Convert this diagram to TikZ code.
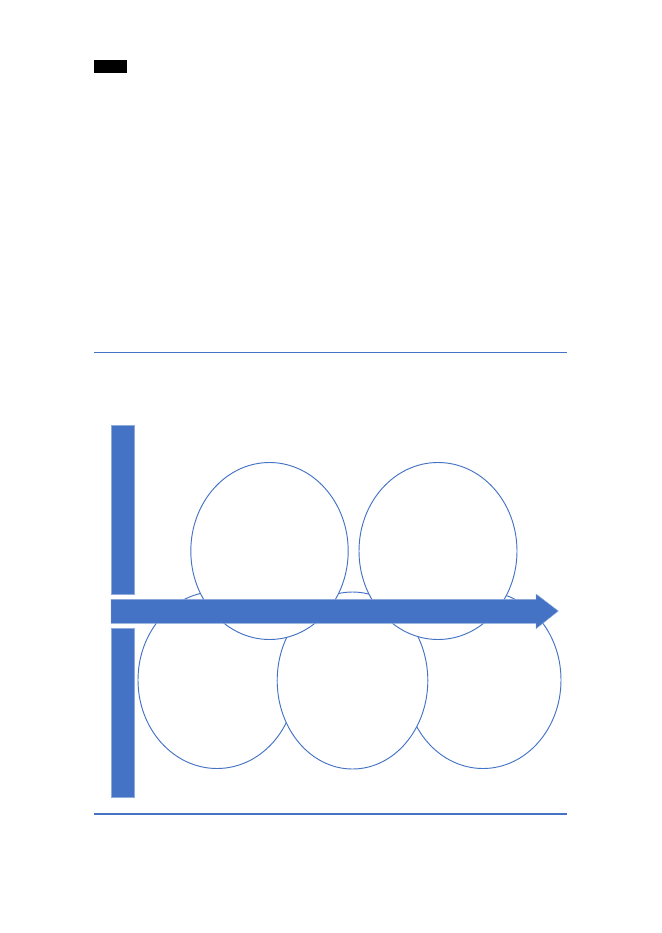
\documentclass[tikz,border=0pt]{standalone}
\usepackage{tikz}
\definecolor{officeblue}{HTML}{4472C4}

\begin{document}
\begin{tikzpicture}[x=0.03cm,y=-0.03cm]
        \useasboundingbox (0,0) rectangle (661,933);
        \fill[black] (94,60) rectangle (126.5,73.5);
        \draw[officeblue, line width=0.9pt] (94,352.3) -- (566.7,352.3);
        \draw[officeblue, line width=0.9pt] (94,814) -- (566.7,814);
        \foreach \cx/\cy/\rx in {217/680/79, 483/680/78, 352.5/680.5/75.3, 269.5/551/78.7, 438/551/79}
            \filldraw[draw=officeblue, fill=white, line width=0.8pt] (\cx,\cy) ellipse ({\rx} and 88.5);
        \filldraw[fill=officeblue, draw=officeblue!60!white, line width=0.4pt]
            (111,599.3) -- (536,599.3) -- (536,594) -- (558.3,611) -- (536,628.7) -- (536,623.3) -- (111,623.3) -- cycle;
        \filldraw[fill=officeblue, draw=officeblue!60!white, line width=0.4pt] (111,425) rectangle (134.3,594);
        \filldraw[fill=officeblue, draw=officeblue!60!white, line width=0.4pt] (111,628) rectangle (134.3,797.3);
\end{tikzpicture}
\end{document}
